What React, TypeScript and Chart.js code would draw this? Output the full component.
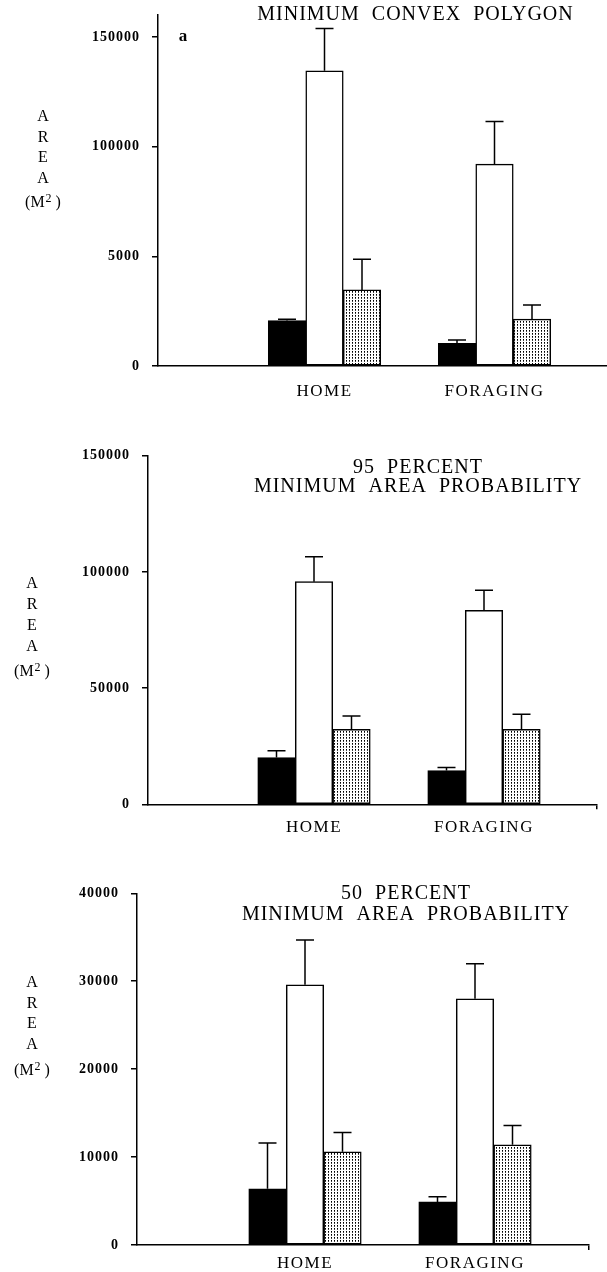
import React, { useEffect, useRef } from 'react';
import { Chart, registerables } from 'chart.js';

Chart.register(...registerables);

const FONT = '"Liberation Serif", "Times New Roman", Times, serif';

// ---------------- data ----------------
const CATEGORIES = ['HOME', 'FORAGING'];
const CATEGORY_POS = [1, 2];
const Y_TITLE_LETTERS = ['A', 'R', 'E', 'A'];
const Y_TITLE_UNIT = ['(M', '2', ' )'];

// Panel a: minimum convex polygon
const MCP_TITLE = ['MINIMUM CONVEX POLYGON'];
const MCP_BLACK = [20700, 10300];
const MCP_BLACK_SE = [600, 1600];
const MCP_WHITE = [134600, 92000];
const MCP_WHITE_SE = [19200, 19500];
const MCP_DOTTED = [34700, 21400];
const MCP_DOTTED_SE = [14000, 6400];
const MCP_Y_TICKS = [0, 50000, 100000, 150000];
const MCP_Y_TICK_LABELS = ['0', '5000', '100000', '150000'];

// Panel: 95 percent minimum area probability
const MAP95_TITLE = ['95 PERCENT', 'MINIMUM AREA PROBABILITY'];
const MAP95_BLACK = [20100, 14500];
const MAP95_BLACK_SE = [2900, 1300];
const MAP95_WHITE = [95800, 83500];
const MAP95_WHITE_SE = [10700, 8600];
const MAP95_DOTTED = [32300, 32300];
const MAP95_DOTTED_SE = [5700, 6400];
const MAP95_Y_TICKS = [0, 50000, 100000, 150000];
const MAP95_Y_TICK_LABELS = ['0', '50000', '100000', '150000'];

// Panel: 50 percent minimum area probability
const MAP50_TITLE = ['50 PERCENT', 'MINIMUM AREA PROBABILITY'];
const MAP50_BLACK = [6400, 4900];
const MAP50_BLACK_SE = [5200, 600];
const MAP50_WHITE = [29600, 28000];
const MAP50_WHITE_SE = [5100, 4000];
const MAP50_DOTTED = [10600, 11400];
const MAP50_DOTTED_SE = [2200, 2200];
const MAP50_Y_TICKS = [0, 10000, 20000, 30000, 40000];
const MAP50_Y_TICK_LABELS = ['0', '10000', '20000', '30000', '40000'];

const PANEL_DATA = [
  { title: MCP_TITLE, letter: 'a', black: MCP_BLACK, blackSE: MCP_BLACK_SE, white: MCP_WHITE, whiteSE: MCP_WHITE_SE, dotted: MCP_DOTTED, dottedSE: MCP_DOTTED_SE, yTicks: MCP_Y_TICKS, yTickLabels: MCP_Y_TICK_LABELS },
  { title: MAP95_TITLE, letter: '', black: MAP95_BLACK, blackSE: MAP95_BLACK_SE, white: MAP95_WHITE, whiteSE: MAP95_WHITE_SE, dotted: MAP95_DOTTED, dottedSE: MAP95_DOTTED_SE, yTicks: MAP95_Y_TICKS, yTickLabels: MAP95_Y_TICK_LABELS },
  { title: MAP50_TITLE, letter: '', black: MAP50_BLACK, blackSE: MAP50_BLACK_SE, white: MAP50_WHITE, whiteSE: MAP50_WHITE_SE, dotted: MAP50_DOTTED, dottedSE: MAP50_DOTTED_SE, yTicks: MAP50_Y_TICKS, yTickLabels: MAP50_Y_TICK_LABELS },
];

// ---------------- layout (page pixel positions) ----------------
const PANEL_LAYOUT = [
  { top: 0, height: 412, axisX: 158, zeroY: 366, topY: 15, yMax: 160000, rightX: 607, homeX: 324.5, step: 170, labelOffset: 25.3, endTick: false, yTitleX: 43, yTitleY: [117, 137.5, 158, 178.5, 203], titleX: 415.5, titleY: [14.7], letterX: 183, letterY: 37 },
  { top: 425, height: 425, axisX: 148, zeroY: 804.3, topY: 455.7, yMax: 150000, rightX: 596.5, homeX: 314, step: 170, labelOffset: 23.5, endTick: true, yTitleX: 32, yTitleY: [584, 605, 626, 647, 672], titleX: 418, titleY: [468, 487], letterX: 0, letterY: 0 },
  { top: 850, height: 422, axisX: 137, zeroY: 1245, topY: 893.3, yMax: 40000, rightX: 589, homeX: 305, step: 170, labelOffset: 18.5, endTick: true, yTitleX: 32, yTitleY: [983, 1003.5, 1024, 1044.5, 1071], titleX: 406, titleY: [894, 915], letterX: 0, letterY: 0 },
];

const BAR_WIDTH = 37.5;
const CAP_HALF = 9;
const LINE_W = 1.5;

function makeDotPattern(ctx: CanvasRenderingContext2D) {
  const c = document.createElement('canvas');
  c.width = 3;
  c.height = 3;
  const g = c.getContext('2d')!;
  g.fillStyle = '#fff';
  g.fillRect(0, 0, 3, 3);
  g.fillStyle = '#000';
  g.fillRect(1, 0, 1, 1);
  g.fillStyle = '#444';
  g.fillRect(1, 1, 1, 1);
  return ctx.createPattern(c, 'repeat');
}

function panelPlugin(d: any, L: any) {
  return {
    id: 'panelExtras',
    beforeDraw(chart: any) {
      chart.ctx.letterSpacing = '1px';
    },
    afterDatasetsDraw(chart: any) {
      const ctx = chart.ctx;
      const ys = chart.scales.y;
      ctx.save();
      ctx.strokeStyle = '#000';
      ctx.lineWidth = LINE_W;
      chart.data.datasets.forEach((ds: any, di: number) => {
        const meta = chart.getDatasetMeta(di);
        meta.data.forEach((bar: any, i: number) => {
          const v = ds.data[i].y;
          const se = ds.se[i];
          const x = bar.x;
          const y0 = ys.getPixelForValue(v);
          const y1 = ys.getPixelForValue(v + se);
          ctx.beginPath();
          ctx.moveTo(x, y0);
          ctx.lineTo(x, y1);
          ctx.moveTo(x - CAP_HALF, y1);
          ctx.lineTo(x + CAP_HALF, y1);
          ctx.stroke();
        });
      });
      ctx.restore();
      ctx.letterSpacing = '1.5px';
    },
    afterDraw(chart: any) {
      const ctx = chart.ctx;
      ctx.save();
      ctx.fillStyle = '#000';
      ctx.textAlign = 'center';
      ctx.textBaseline = 'middle';
      // panel title
      ctx.font = `20px ${FONT}`;
      ctx.letterSpacing = '1px';
      ctx.wordSpacing = '6px';
      d.title.forEach((t: string, i: number) => ctx.fillText(t, L.titleX, L.titleY[i] - L.top));
      // stacked y-axis title
      ctx.letterSpacing = '0px';
      ctx.wordSpacing = '0px';
      ctx.font = `16px ${FONT}`;
      Y_TITLE_LETTERS.forEach((t, i) => ctx.fillText(t, L.yTitleX, L.yTitleY[i] - L.top));
      const uy = L.yTitleY[4] - L.top;
      const mainFont = `16px ${FONT}`;
      const supFont = `12px ${FONT}`;
      ctx.font = mainFont;
      const w0 = ctx.measureText(Y_TITLE_UNIT[0]).width;
      const w2 = ctx.measureText(Y_TITLE_UNIT[2]).width;
      ctx.font = supFont;
      const w1 = ctx.measureText(Y_TITLE_UNIT[1]).width + 1;
      let x = L.yTitleX - (w0 + w1 + w2) / 2;
      ctx.textAlign = 'left';
      ctx.font = mainFont;
      ctx.fillText(Y_TITLE_UNIT[0], x, uy);
      x += w0 + 1;
      ctx.font = supFont;
      ctx.fillText(Y_TITLE_UNIT[1], x, uy - 4);
      x += w1 - 1;
      ctx.font = mainFont;
      ctx.fillText(Y_TITLE_UNIT[2], x, uy);
      ctx.textAlign = 'center';
      if (d.letter) {
        ctx.font = `bold 17px ${FONT}`;
        ctx.fillText(d.letter, L.letterX, L.letterY - L.top);
      }
      ctx.restore();
      ctx.letterSpacing = '0px';
    },
  };
}

function buildConfig(d: any, L: any, pattern: any) {
  const H = L.height;
  const zero = L.zeroY - L.top;
  const topPad = L.topY - L.top;
  const xMin = 1 - (L.homeX - L.axisX) / L.step;
  const xMax = 1 + (L.rightX - L.homeX) / L.step;
  const tickLen = L.endTick ? 5 : 0;
  const mk = (vals: number[], se: number[], fill: any) => ({
    data: CATEGORY_POS.map((x, i) => ({ x, y: vals[i] })),
    se,
    backgroundColor: fill,
    borderColor: '#000',
    borderWidth: LINE_W,
    borderSkipped: false,
    barThickness: BAR_WIDTH,
  });
  return {
    type: 'bar',
    data: {
      datasets: [mk(d.black, d.blackSE, '#000'), mk(d.white, d.whiteSE, '#fff'), mk(d.dotted, d.dottedSE, pattern)],
    },
    options: {
      responsive: false,
      animation: false,
      devicePixelRatio: 1,
      layout: { padding: { left: 0, top: topPad, right: 607 - L.rightX, bottom: 0 } },
      plugins: { legend: { display: false }, tooltip: { enabled: false }, title: { display: false } },
      scales: {
        x: {
          type: 'linear',
          min: xMin,
          max: xMax,
          offset: false,
          afterBuildTicks: (s: any) => {
            s.ticks = [...CATEGORY_POS.map((v) => ({ value: v })), { value: xMax }];
          },
          afterFit: (s: any) => {
            s.height = H - zero;
            s.paddingLeft = 0;
            s.paddingRight = 0;
          },
          grid: {
            display: true,
            drawOnChartArea: false,
            drawTicks: L.endTick,
            tickLength: 5,
            lineWidth: LINE_W,
            offset: false,
            color: (c: any) => (c.tick && c.tick.value === xMax ? '#000' : 'rgba(0,0,0,0)'),
          },
          border: { display: true, color: '#000', width: LINE_W, z: 1 },
          ticks: {
            autoSkip: false,
            maxRotation: 0,
            minRotation: 0,
            padding: L.labelOffset - tickLen - 10.2,
            font: { family: FONT, size: 17 },
            color: '#000',
            z: 1,
            callback: (v: number) => {
              const i = CATEGORY_POS.indexOf(v);
              return i >= 0 ? CATEGORIES[i] : '';
            },
          },
        },
        y: {
          type: 'linear',
          min: 0,
          max: L.yMax,
          afterBuildTicks: (s: any) => {
            s.ticks = d.yTicks.map((v: number) => ({ value: v }));
          },
          afterFit: (s: any) => {
            s.width = L.axisX;
            s.paddingTop = 0;
            s.paddingBottom = 0;
          },
          grid: { drawOnChartArea: false, drawTicks: true, tickLength: 6, lineWidth: LINE_W, color: '#000' },
          border: { display: true, color: '#000', width: LINE_W, z: 1 },
          ticks: {
            padding: 12,
            font: { family: FONT, size: 14, weight: 'bold' },
            color: '#000',
            z: -2,
            callback: (v: number) => {
              const i = d.yTicks.indexOf(v);
              return i >= 0 ? d.yTickLabels[i] : '';
            },
          },
        },
      },
    },
    plugins: [panelPlugin(d, L)],
  };
}

function Panel({ d, L }: { d: any; L: any }) {
  const ref = useRef<HTMLCanvasElement>(null);
  useEffect(() => {
    const canvas = ref.current!;
    const pattern = makeDotPattern(canvas.getContext('2d')!);
    const chart = new Chart(canvas, buildConfig(d, L, pattern) as any);
    return () => chart.destroy();
  }, []);
  return (
    <canvas
      ref={ref}
      width={607}
      height={L.height}
      style={{ position: 'absolute', left: 0, top: L.top, width: 607, height: L.height, display: 'block' }}
    />
  );
}

export default function App() {
  return (
    <div style={{ position: 'absolute', left: 0, top: 0, width: 607, height: 1272, background: '#fff', overflow: 'hidden' }}>
      {PANEL_DATA.map((d, i) => (
        <Panel key={i} d={d} L={PANEL_LAYOUT[i]} />
      ))}
    </div>
  );
}
